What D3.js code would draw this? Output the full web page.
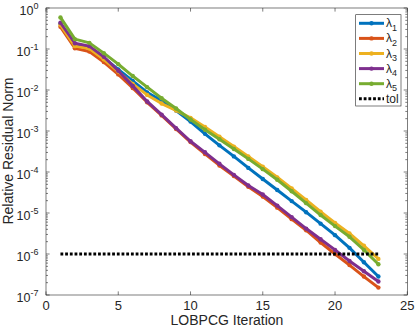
<!DOCTYPE html>
<html><head><meta charset="utf-8">
<script src="https://cdn.jsdelivr.net/npm/d3@7"></script>
<style>body{margin:0;background:#fff}svg{display:block}text{font-family:"Liberation Sans",Arial,sans-serif;fill:#262626}</style>
</head><body><svg id="c" width="415" height="327"></svg>
<script>
// Data (negative log10 exponent -> value = 10^-d)
const iterations = d3.range(1, 24);
const seriesNames = ["1","2","3","4","5"];
const seriesColors = ["#0072BD","#D95319","#EDB120","#7E2F8E","#77AC30"];
const lambda1 = [0.38,0.88,0.96,1.22,1.50,1.78,2.06,2.26,2.50,2.77,3.07,3.35,3.62,3.90,4.17,4.44,4.71,4.98,5.26,5.54,5.85,6.20,6.55];
const lambda2 = [0.46,0.98,1.06,1.32,1.62,1.95,2.30,2.62,2.95,3.27,3.56,3.84,4.10,4.36,4.60,4.87,5.15,5.42,5.72,6.00,6.27,6.55,6.82];
const lambda3 = [0.41,0.93,0.99,1.25,1.55,1.85,2.12,2.33,2.50,2.68,2.90,3.14,3.38,3.62,3.87,4.13,4.40,4.68,4.97,5.24,5.50,5.80,6.12];
const lambda4 = [0.36,0.86,0.93,1.19,1.53,1.90,2.28,2.60,2.93,3.25,3.52,3.80,4.07,4.33,4.55,4.82,5.10,5.38,5.64,5.90,6.17,6.42,6.67];
const lambda5 = [0.23,0.76,0.85,1.10,1.37,1.66,1.93,2.20,2.45,2.72,2.97,3.20,3.44,3.68,3.93,4.19,4.47,4.76,5.05,5.32,5.58,5.90,6.25];
const tolValue = 1e-6;
const xTicks = [0,5,10,15,20,25];
const yTickExps = [0,-1,-2,-3,-4,-5,-6,-7];

const allSeries = [lambda1,lambda2,lambda3,lambda4,lambda5].map(a => a.map(d => Math.pow(10,-d)));

const L=46, R=407.3, T=8, B=295;
const svg = d3.select("#c");
const x = d3.scaleLinear().domain([0,25]).range([L,R]);
const y = d3.scaleLog().domain([1e-7,1]).range([B,T]);
const axisColor = "#262626";

// white plot bg
svg.append("rect").attr("x",L).attr("y",T).attr("width",R-L).attr("height",B-T).attr("fill","#fff");

// minor y ticks
const minor = [];
for (let e=-7;e<0;e++) for (let m=2;m<=9;m++) minor.push(m*Math.pow(10,e));
const g = svg.append("g").attr("stroke",axisColor).attr("stroke-width",0.6);
minor.forEach(v=>{
  g.append("line").attr("x1",L).attr("x2",L+2).attr("y1",y(v)).attr("y2",y(v));
  g.append("line").attr("x1",R).attr("x2",R-2).attr("y1",y(v)).attr("y2",y(v));
});
yTickExps.forEach(e=>{
  const v=Math.pow(10,e);
  g.append("line").attr("x1",L).attr("x2",L+3.6).attr("y1",y(v)).attr("y2",y(v));
  g.append("line").attr("x1",R).attr("x2",R-3.6).attr("y1",y(v)).attr("y2",y(v));
});
xTicks.forEach(t=>{
  g.append("line").attr("x1",x(t)).attr("x2",x(t)).attr("y1",B).attr("y2",B-3.6);
  g.append("line").attr("x1",x(t)).attr("x2",x(t)).attr("y1",T).attr("y2",T+3.6);
});

// series
const line = d3.line().x((d,i)=>x(iterations[i])).y(d=>y(d));
allSeries.forEach((s,k)=>{
  svg.append("path").attr("d",line(s)).attr("fill","none").attr("stroke",seriesColors[k])
    .attr("stroke-width",3).attr("stroke-linejoin","round");
  svg.append("g").selectAll("circle").data(s).join("circle")
    .attr("cx",(d,i)=>x(iterations[i])).attr("cy",d=>y(d)).attr("r",2.2).attr("fill",seriesColors[k]);
});
// tol
svg.append("line").attr("x1",x(1)).attr("x2",x(23)).attr("y1",y(tolValue)).attr("y2",y(tolValue))
  .attr("stroke","#000").attr("stroke-width",3).attr("stroke-dasharray","2.8,1.9");

// box
svg.append("rect").attr("x",L).attr("y",T).attr("width",R-L).attr("height",B-T)
  .attr("fill","none").attr("stroke",axisColor).attr("stroke-width",0.6);

// tick labels
xTicks.forEach(t=>{
  svg.append("text").attr("x",x(t)).attr("y",310).attr("text-anchor","middle").attr("font-size",13).text(t);
});
yTickExps.forEach(e=>{
  const t = svg.append("text").attr("x",38.5).attr("y",y(Math.pow(10,e))+6.5).attr("text-anchor","end").attr("font-size",12.5);
  t.append("tspan").text("10");
  t.append("tspan").attr("dy",-6).attr("font-size",9).text(e===0?"0":"-"+(-e));
});
// axis labels
svg.append("text").attr("x",227).attr("y",325).attr("text-anchor","middle").attr("font-size",14).text("LOBPCG Iteration");
svg.append("text").attr("transform","translate(12.5,151) rotate(-90)").attr("text-anchor","middle").attr("font-size",14).text("Relative Residual Norm");

// legend
const lg = svg.append("g");
lg.append("rect").attr("x",355.7).attr("y",14.7).attr("width",45.3).attr("height",91.3)
  .attr("fill","#fff").attr("stroke",axisColor).attr("stroke-width",0.6);
const ly0=23.3, ldy=15.1;
seriesNames.forEach((n,k)=>{
  const yy=ly0+k*ldy;
  lg.append("line").attr("x1",359).attr("x2",384).attr("y1",yy).attr("y2",yy).attr("stroke",seriesColors[k]).attr("stroke-width",3);
  lg.append("circle").attr("cx",371.5).attr("cy",yy).attr("r",2.2).attr("fill",seriesColors[k]);
  const t=lg.append("text").attr("x",386).attr("y",yy+4).attr("font-size",12);
  t.append("tspan").text("λ");
  t.append("tspan").attr("dy",3.5).attr("font-size",9).text(n);
});
const yt=ly0+5*ldy;
lg.append("line").attr("x1",359).attr("x2",384).attr("y1",yt).attr("y2",yt).attr("stroke","#000").attr("stroke-width",3).attr("stroke-dasharray","2.8,1.9");
lg.append("text").attr("x",386).attr("y",yt+4).attr("font-size",12).text("tol");
</script></body></html>
